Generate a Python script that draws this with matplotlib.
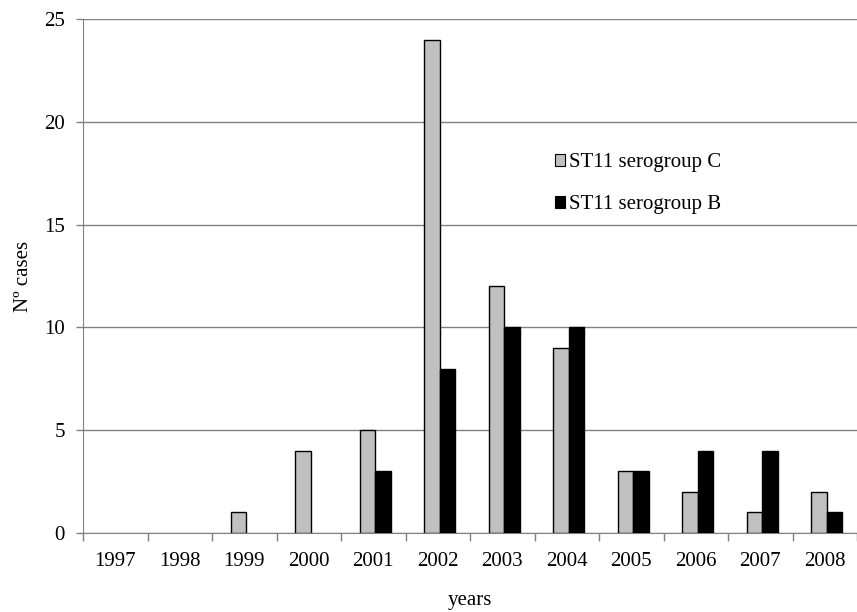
import matplotlib
matplotlib.use("Agg")
import matplotlib.pyplot as plt
import numpy as np
from matplotlib.patches import Rectangle

years = ["1997", "1998", "1999", "2000", "2001", "2002", "2003", "2004", "2005", "2006", "2007", "2008"]
serogroup_c = [0, 0, 1, 4, 5, 24, 12, 9, 3, 2, 1, 2]
serogroup_b = [0, 0, 0, 0, 3, 8, 10, 10, 3, 4, 4, 1]
labels = ["ST11 serogroup C", "ST11 serogroup B"]
yticks = [0, 5, 10, 15, 20, 25]

plt.rcParams['font.family'] = ['Liberation Serif', 'DejaVu Serif']

fig = plt.figure(figsize=(8.57, 6.12), dpi=100)
ax = fig.add_axes([0.097, 0.129, 0.903, 0.84])

x = np.arange(len(years))
w = 0.24
for xi, c, b in zip(x, serogroup_c, serogroup_b):
    if c > 0:
        ax.bar(xi - w / 2 + 0.03, c, width=w, color='#c0c0c0', edgecolor='black', linewidth=1.0, zorder=3)
    if b > 0:
        ax.bar(xi + w / 2 + 0.03, b, width=w, color='black', edgecolor='black', linewidth=1.0, zorder=3)

ax.set_xlim(-0.5, len(years) - 0.5)
ax.set_ylim(0, 25)
ax.set_yticks(yticks)
ax.set_yticklabels([str(t) for t in yticks], fontsize=15)
ax.set_xticks(x)
ax.set_xticklabels(years, fontsize=15)
ax.tick_params(axis='x', length=0, pad=14)
ax.set_xticks(np.arange(len(years) + 1) - 0.5, minor=True)
ax.tick_params(axis='x', which='minor', length=6, color='#808080', width=1)
ax.tick_params(axis='y', length=5, color='#808080', width=1, pad=8)

ax.grid(axis='y', color='#808080', linewidth=1, zorder=0)
ax.set_axisbelow(True)
for s in ['top', 'right']:
    ax.spines[s].set_visible(False)
ax.spines['left'].set_color('#808080')
ax.spines['bottom'].set_color('#808080')

ax.set_ylabel("Nº cases", fontsize=15, labelpad=8)
ax.set_xlabel("years", fontsize=15, labelpad=14)

handles = [Rectangle((0, 0), 1, 1, facecolor='#c0c0c0', edgecolor='black', linewidth=0.8),
           Rectangle((0, 0), 1, 1, facecolor='black', edgecolor='black', linewidth=0.8)]
ax.legend(handles, labels, loc='upper left', bbox_to_anchor=(0.585, 0.775), frameon=False,
          fontsize=15, handlelength=0.5, handleheight=0.5, handletextpad=0.2, labelspacing=1.1)

fig.savefig("out.png", dpi=100)
